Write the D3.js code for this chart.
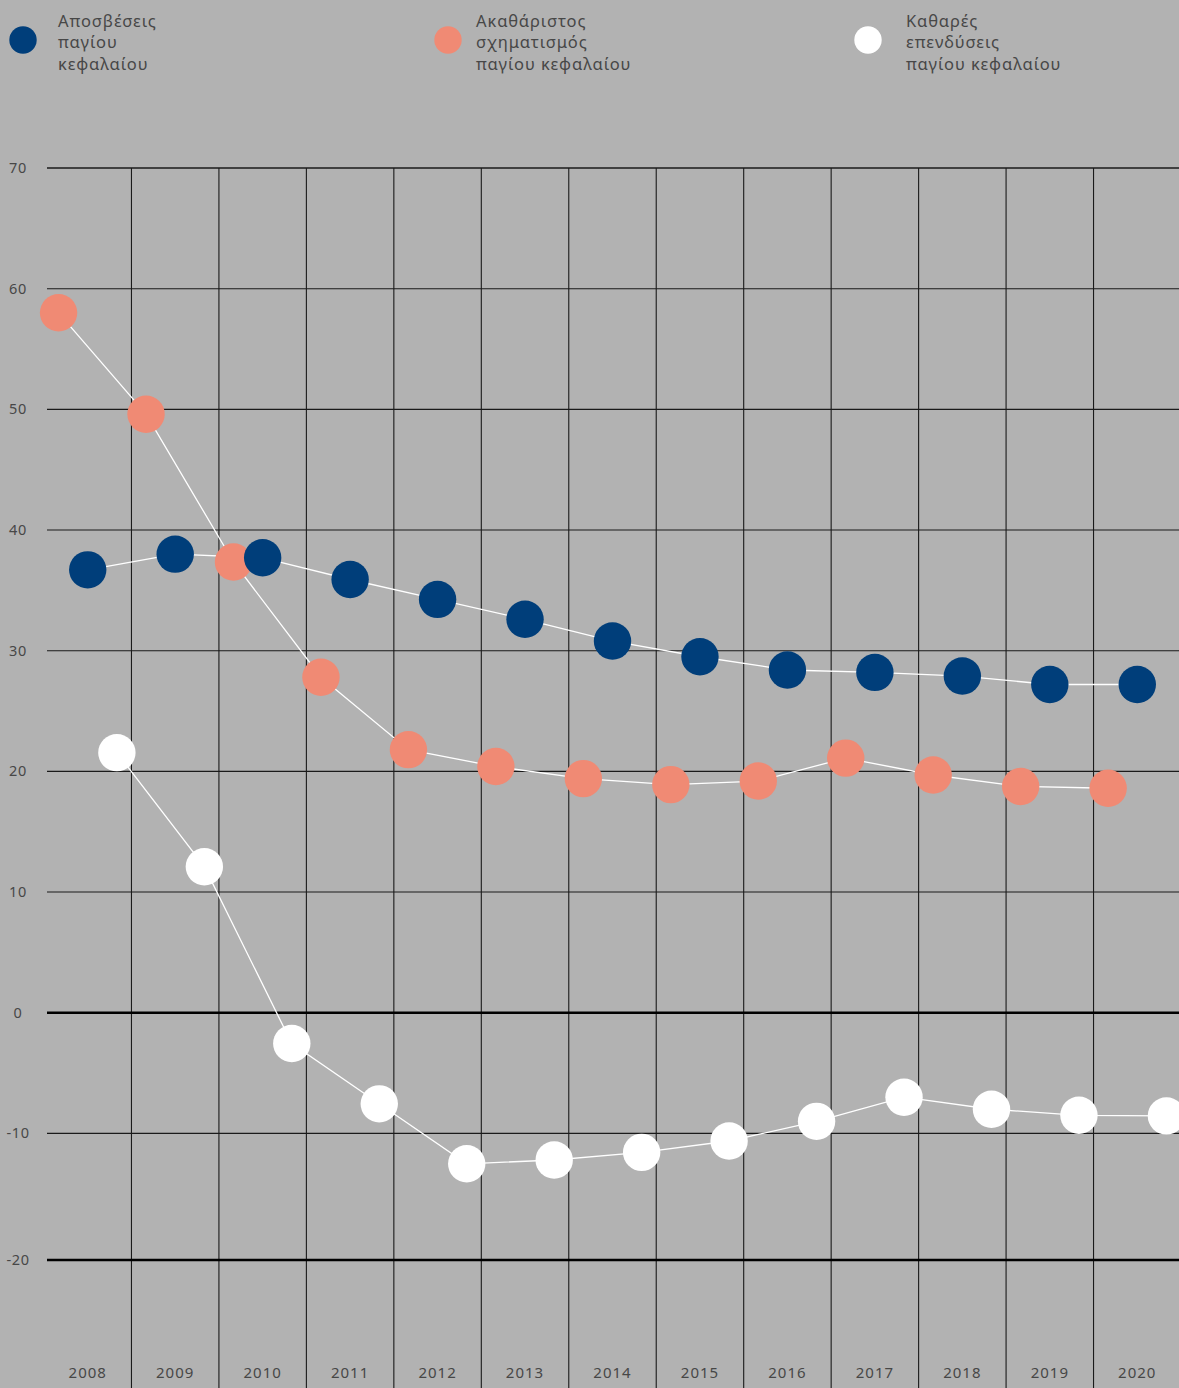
<!DOCTYPE html>
<html><head><meta charset="utf-8">
<script src="https://cdn.jsdelivr.net/npm/d3@7"></script>
<style>
html,body{margin:0;padding:0;background:#b2b2b2;}
svg{display:block;}
text{font-family:"Noto Sans","Inter",sans-serif;fill:#474747;}
</style></head><body>
<svg id="c" width="1179" height="1388"></svg>
<script>
const years = ["2008","2009","2010","2011","2012","2013","2014","2015","2016","2017","2018","2019","2020"];
const depreciation = [36.7,38.0,37.7,35.9,34.25,32.6,30.8,29.5,28.4,28.2,27.9,27.2,27.2];
const grossFormation = [58.0,49.6,37.35,27.8,21.8,20.4,19.4,18.9,19.2,21.1,19.7,18.75,18.6];
const netInvestment = [21.55,12.1,-2.55,-7.55,-12.4,-12.1,-11.5,-10.6,-9.0,-7.0,-8.0,-8.5,-8.55];
const yTicks = [70,60,50,40,30,20,10,0,-10,-20];
const seriesNames = ["Ακαθάριστος σχηματισμός παγίου κεφαλαίου","Αποσβέσεις παγίου κεφαλαίου","Καθαρές επενδύσεις παγίου κεφαλαίου"];
const legendItems = [
  {lines:["Αποσβέσεις","παγίου","κεφαλαίου"], color:"#003e7a"},
  {lines:["Ακαθάριστος","σχηματισμός","παγίου κεφαλαίου"], color:"#f08a74"},
  {lines:["Καθαρές","επενδύσεις","παγίου κεφαλαίου"], color:"#ffffff"}
];
const series = [
  {name:seriesNames[0], values:grossFormation, color:"#f08a74"},
  {name:seriesNames[1], values:depreciation, color:"#003e7a"},
  {name:seriesNames[2], values:netInvestment, color:"#ffffff"}
];

const W = 1179, H = 1388;
const svg = d3.select("#c");
const x = d3.scaleBand().domain(years).range([44, 1181]).padding(0);
const xi = d3.scaleBand().domain(seriesNames).range([0, x.bandwidth()]).padding(0);
const y = d3.scaleLinear().domain([-20, -10, 70]).range([1260, 1133.4, 168]);

// vertical grid lines (band boundaries)
svg.append("g").selectAll("line").data(years.slice(1)).join("line")
  .attr("x1", d => x(d)).attr("x2", d => x(d))
  .attr("y1", y(70)).attr("y2", H)
  .attr("stroke", "#1a1a1a").attr("stroke-width", 1.1);

// horizontal grid lines
svg.append("g").selectAll("line").data(yTicks).join("line")
  .attr("x1", 47).attr("x2", W)
  .attr("y1", d => y(d)).attr("y2", d => y(d))
  .attr("stroke", d => (d === 0 || d === -20) ? "#000" : "#1a1a1a")
  .attr("stroke-width", d => (d === 0 || d === -20) ? 2.6 : (d === 70 ? 1.4 : 1.1));

// y labels
svg.append("g").selectAll("text").data(yTicks).join("text")
  .attr("x", 18).attr("y", d => y(d)).attr("dy", "0.35em")
  .attr("text-anchor", "middle").attr("font-size", 14.5).attr("letter-spacing", 0.6)
  .text(d => d);

// x labels
svg.append("g").selectAll("text").data(years).join("text")
  .attr("x", d => x(d) + x.bandwidth()/2).attr("y", 1378)
  .attr("text-anchor", "middle").attr("font-size", 15).attr("letter-spacing", 1)
  .text(d => d);

// lines
const line = d3.line()
  .x((d, i) => x(years[i]) + xi(d.name) + xi.bandwidth()/2)
  .y(d => y(d.v));
series.forEach(s => {
  const pts = s.values.map(v => ({name:s.name, v}));
  svg.append("path").datum(pts).attr("d", line)
    .attr("fill", "none").attr("stroke", "#ffffff").attr("stroke-width", 1.3);
});
// circles
series.forEach(s => {
  svg.append("g").selectAll("circle").data(s.values).join("circle")
    .attr("cx", (v, i) => x(years[i]) + xi(s.name) + xi.bandwidth()/2)
    .attr("cy", v => y(v)).attr("r", 18.7)
    .attr("fill", s.color);
});

// legend
const legX = [23, 448, 868];
const legTextX = [58, 476, 906];
const lg = svg.append("g").selectAll("g").data(legendItems).join("g");
lg.append("circle").attr("cx", (d, i) => legX[i]).attr("cy", 40)
  .attr("r", 13.7).attr("fill", d => d.color);
lg.each(function(d, i) {
  d3.select(this).append("text").attr("font-size", 16.5).attr("letter-spacing", 0.9)
    .selectAll("tspan").data(d.lines).join("tspan")
    .attr("x", legTextX[i]).attr("y", (t, j) => 27 + j * 21.3)
    .text(t => t);
});
</script>
</body></html>
